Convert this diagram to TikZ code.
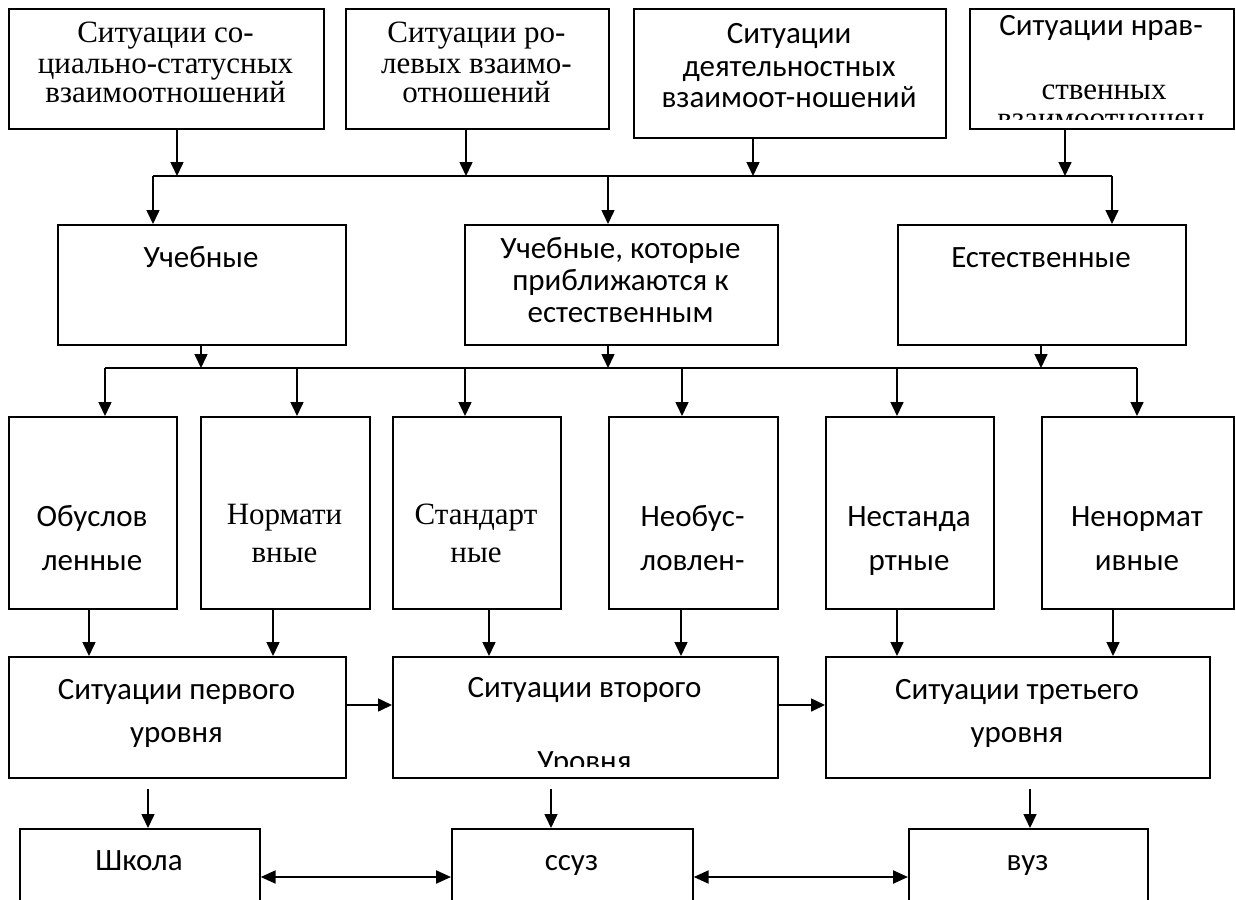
\documentclass[tikz,border=0pt]{standalone}
\usepackage{fontspec}
\setmainfont{Liberation Serif}
\newfontfamily\calfont{Carlito}
\usetikzlibrary{arrows.meta}
\begin{document}
\begin{tikzpicture}[x=1pt,y=-1pt,
  box/.style={draw, line width=1.7pt, inner sep=0pt, anchor=north west},
  ser/.style={font=\fontsize{31}{31}\selectfont, anchor=base, inner sep=0pt},
  san/.style={font=\calfont\fontsize{31}{31}\selectfont, anchor=base, inner sep=0pt},
  arr/.style={line width=1.6pt, -{Triangle[width=13pt,length=14pt]}},
  ln/.style={line width=1.6pt},
  dbl/.style={line width=2.2pt, {Triangle[width=13pt,length=15pt]}-{Triangle[width=13pt,length=15pt]}}
]
\useasboundingbox (0,0) rectangle (1236,899);
\clip (0,0) rectangle (1236,899);
% row 1
\node[box, minimum width=315pt, minimum height=120pt] (B1) at (8,8) {};
\node[box, minimum width=263pt, minimum height=120pt] (B2) at (345,8) {};
\node[box, minimum width=312pt, minimum height=129pt] (B3) at (633,8) {};
\node[box, minimum width=264pt, minimum height=120pt] (B4) at (969,8) {};
% row 2
\node[box, minimum width=288pt, minimum height=120pt] (R2a) at (57,224) {};
\node[box, minimum width=313pt, minimum height=120pt] (R2b) at (464,224) {};
\node[box, minimum width=288pt, minimum height=120pt] (R2c) at (897,224) {};
% row 3
\node[box, minimum width=168pt, minimum height=192pt] (R3a) at (8,416) {};
\node[box, minimum width=169pt, minimum height=192pt] (R3b) at (200,416) {};
\node[box, minimum width=168pt, minimum height=192pt] (R3c) at (392,416) {};
\node[box, minimum width=169pt, minimum height=192pt] (R3d) at (608,416) {};
\node[box, minimum width=168pt, minimum height=192pt] (R3e) at (825,416) {};
\node[box, minimum width=192pt, minimum height=192pt] (R3f) at (1041,416) {};
% row 4
\node[box, minimum width=337pt, minimum height=121pt] (L1) at (8,656) {};
\node[box, minimum width=385pt, minimum height=121pt] (L2) at (392,656) {};
\node[box, minimum width=384pt, minimum height=121pt] (L3) at (825,656) {};
% row 5
\node[box, minimum width=240pt, minimum height=122pt] (S1) at (19,828) {};
\node[box, minimum width=241pt, minimum height=122pt] (S2) at (451,828) {};
\node[box, minimum width=239pt, minimum height=122pt] (S3) at (908,828) {};

% texts row 1
\node[ser] (t11) at (165.5,43) {Ситуации со-};
\node[ser] (t12) at (165.5,74) {циально-статусных};
\node[ser] (t13) at (165.5,102) {взаимоотношений};
\node[ser] (t21) at (476.5,43) {Ситуации ро-};
\node[ser] (t22) at (476.5,74) {левых взаимо-};
\node[ser] (t23) at (476.5,102) {отношений};
\node[san] (t31) at (789,44) {Ситуации};
\node[san] (t32) at (789,76) {деятельностных};
\node[san] (t33) at (789,107) {взаимоот-ношений};
\node[san] (t41) at (1101,36) {Ситуации нрав-};
\node[ser] (t42) at (1104,99) {ственных};
\begin{scope}
\clip (969,8) rectangle (1233,119);
\node[ser] (t43) at (1101,128) {взаимоотношен};
\end{scope}
% row 2
\node[san] (u1) at (201,267) {Учебные};
\node[san] (u21) at (620.5,258) {Учебные, которые};
\node[san] (u22) at (620.5,290) {приближаются к};
\node[san] (u23) at (620.5,322) {естественным};
\node[san] (u3) at (1041,267) {Естественные};
% row 3
\node[san] (v11) at (92,526) {Обуслов};
\node[san] (v12) at (92,570) {ленные};
\node[ser] (v21) at (284.5,524) {Нормати};
\node[ser] (v22) at (284.5,562) {вные};
\node[ser] (v31) at (476,524) {Стандарт};
\node[ser] (v32) at (476,562) {ные};
\node[san] (v41) at (692.5,526) {Необус-};
\node[san] (v42) at (692.5,570) {ловлен-};
\node[san] (v51) at (909,526) {Нестанда};
\node[san] (v52) at (909,570) {ртные};
\node[san] (v61) at (1137,526) {Ненормат};
\node[san] (v62) at (1137,570) {ивные};
% row 4
\node[san] (w11) at (176.5,699) {Ситуации первого};
\node[san] (w12) at (176.5,742) {уровня};
\node[san] (w21) at (584.5,697) {Ситуации второго};
\begin{scope}
\clip (392,656) rectangle (777,766);
\node[san] (w22) at (584.5,771) {Уровня};
\end{scope}
\node[san] (w31) at (1017,699) {Ситуации третьего};
\node[san] (w32) at (1017,742) {уровня};
% row 5
\node[san] (x1) at (139,870) {Школа};
\node[san] (x2) at (571.5,870) {ссуз};
\node[san] (x3) at (1027.5,870) {вуз};

% junction coordinates
\coordinate (h1l) at (153,176);
\coordinate (h1r) at (1112,176);
\coordinate (h1m) at (608,176);
\coordinate (a1) at (177,176);
\coordinate (a2) at (466,176);
\coordinate (a3) at (753,176);
\coordinate (a4) at (1065,176);
\coordinate (h2l) at (105,368);
\coordinate (h2r) at (1137,368);
\coordinate (b1) at (201,368);
\coordinate (b2) at (608,368);
\coordinate (b3) at (1041,368);
\coordinate (d2) at (297,368);
\coordinate (d3) at (465,368);
\coordinate (d4) at (682,368);
\coordinate (d5) at (897,368);
\coordinate (e1) at (89,0);
\coordinate (e2) at (273,0);
\coordinate (e3) at (489,0);
\coordinate (e4) at (681,0);
\coordinate (e5) at (897,0);
\coordinate (e6) at (1113,0);
\coordinate (f1) at (148,789);
\coordinate (f2) at (551,789);
\coordinate (f3) at (1030,789);
\coordinate (g) at (0,705);
\coordinate (k) at (0,877);

% row1 -> line1
\draw[arr] (B1.south -| a1) -- (a1);
\draw[arr] (B2.south -| a2) -- (a2);
\draw[arr] (B3.south -| a3) -- (a3);
\draw[arr] (B4.south -| a4) -- (a4);
\draw[ln] (h1l) -- (h1r);
\draw[arr] (h1l) -- (R2a.north -| h1l);
\draw[arr] (h1m) -- (R2b.north -| h1m);
\draw[arr] (h1r) -- (R2c.north -| h1r);
% row2 -> line2
\draw[arr] (R2a.south -| b1) -- (b1);
\draw[arr] (R2b.south -| b2) -- (b2);
\draw[arr] (R2c.south -| b3) -- (b3);
\draw[ln] (h2l) -- (h2r);
\draw[arr] (h2l) -- (R3a.north -| h2l);
\draw[arr] (d2) -- (R3b.north -| d2);
\draw[arr] (d3) -- (R3c.north -| d3);
\draw[arr] (d4) -- (R3d.north -| d4);
\draw[arr] (d5) -- (R3e.north -| d5);
\draw[arr] (h2r) -- (R3f.north -| h2r);
% row3 -> row4
\draw[arr] (R3a.south -| e1) -- (L1.north -| e1);
\draw[arr] (R3b.south -| e2) -- (L1.north -| e2);
\draw[arr] (R3c.south -| e3) -- (L2.north -| e3);
\draw[arr] (R3d.south -| e4) -- (L2.north -| e4);
\draw[arr] (R3e.south -| e5) -- (L3.north -| e5);
\draw[arr] (R3f.south -| e6) -- (L3.north -| e6);
% row4 horizontal
\draw[arr] (L1.east |- g) -- (L2.west |- g);
\draw[arr] (L2.east |- g) -- (L3.west |- g);
% row4 -> row5
\draw[arr] (f1) -- (S1.north -| f1);
\draw[arr] (f2) -- (S2.north -| f2);
\draw[arr] (f3) -- (S3.north -| f3);
% double arrows
\draw[dbl] (S1.east |- k) -- (S2.west |- k);
\draw[dbl] (S2.east |- k) -- (S3.west |- k);
\end{tikzpicture}
\end{document}
